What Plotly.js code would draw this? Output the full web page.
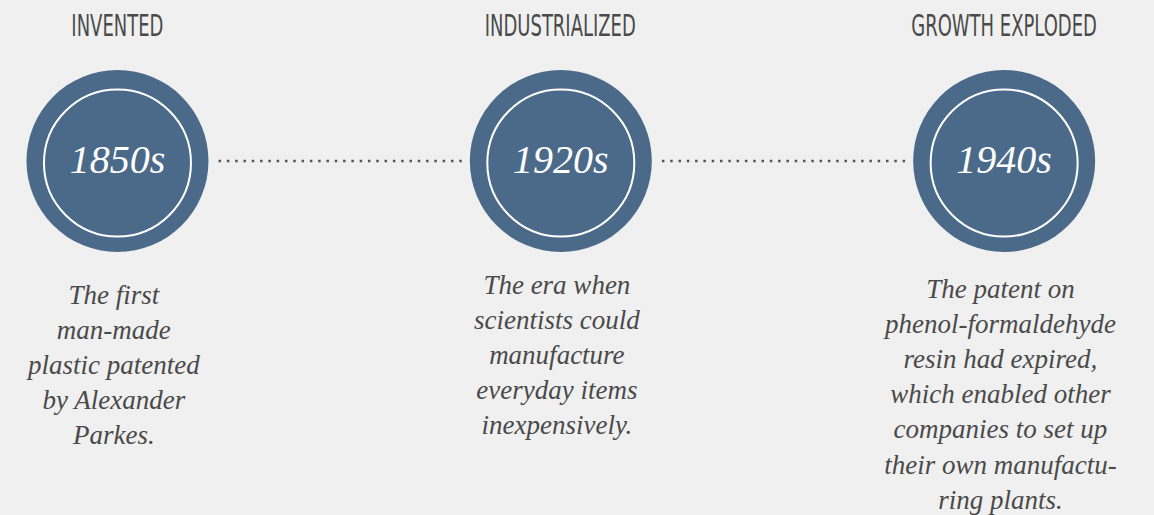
<!DOCTYPE html>
<html>
<head>
<meta charset="utf-8">
<script src="https://cdn.plot.ly/plotly-3.0.1.min.js"></script>
<style>
  html, body { margin: 0; padding: 0; background: #f0f0f0; }
  #chart { width: 1154px; height: 515px; }
</style>
</head>
<body>
<div id="chart"></div>
<script>
// ---- data ----
var stages = ['INVENTED', 'INDUSTRIALIZED', 'GROWTH EXPLODED'];
var years = ['1850s', '1920s', '1940s'];
var descriptions = [
  'The first<br>man-made<br>plastic patented<br>by Alexander<br>Parkes.',
  'The era when<br>scientists could<br>manufacture<br>everyday items<br>inexpensively.',
  'The patent on<br>phenol-formaldehyde<br>resin had expired,<br>which enabled other<br>companies to set up<br>their own manufactu-<br>ring plants.'
];

// ---- layout constants ----
var idx = stages.map(function (_, i) { return i; });
var circleY = 161;
var headerY = 25;
var descTop = [278, 268, 272];
var blue = '#4b6a89';
var textGrey = '#4a4a4a';

var traces = [];
// dotted connectors between consecutive stages
for (var i = 0; i < idx.length - 1; i++) {
  traces.push({
    x: [idx[i] + 0.228, idx[i + 1] - 0.223],
    y: [circleY, circleY],
    mode: 'lines',
    line: { color: '#555555', width: 2.5, dash: '2.5px,5.8px' },
    hoverinfo: 'skip', showlegend: false
  });
}
// outer filled circles
traces.push({
  x: idx, y: idx.map(function () { return circleY; }),
  mode: 'markers',
  marker: { size: 182, color: blue, line: { width: 0 } },
  hoverinfo: 'skip', showlegend: false
});
// inner white rings with year labels
traces.push({
  x: idx, y: idx.map(function () { return circleY + 2; }),
  mode: 'markers+text',
  text: years,
  textposition: 'middle center',
  textfont: { family: '"Liberation Serif", "DejaVu Serif", serif', size: 40, color: '#ffffff', style: 'italic' },
  marker: { size: 147, color: 'rgba(0,0,0,0)', line: { width: 2, color: '#ffffff' } },
  hoverinfo: 'skip', showlegend: false
});

var annotations = [];
stages.forEach(function (s, i) {
  annotations.push({
    x: idx[i], y: headerY, xref: 'x', yref: 'y',
    text: s, showarrow: false, xanchor: 'center', yanchor: 'middle',
    font: { family: '"DejaVu Sans", sans-serif', size: 31, color: textGrey }
  });
});
descriptions.forEach(function (d, i) {
  annotations.push({
    x: idx[i], y: descTop[i], xref: 'x', yref: 'y', xshift: -4,
    text: d, showarrow: false, xanchor: 'center', yanchor: 'top', align: 'center',
    font: { family: '"Liberation Serif", "DejaVu Serif", serif', size: 27, color: textGrey, style: 'italic' }
  });
});

var layout = {
  width: 1154, height: 515,
  margin: { l: 0, r: 0, t: 0, b: 0 },
  paper_bgcolor: '#f0f0f0', plot_bgcolor: '#f0f0f0',
  xaxis: { range: [-0.265, 2.338], visible: false, fixedrange: true },
  yaxis: { range: [515, 0], visible: false, fixedrange: true },
  annotations: annotations,
  showlegend: false
};

function condenseHeaders() {
  var groups = document.querySelectorAll('#chart g.annotation');
  for (var k = 0; k < groups.length; k++) {
    var t = groups[k].querySelector('text');
    if (!t || stages.indexOf(t.textContent) < 0) continue;
    var bb = t.getBBox();
    var cx = bb.x + bb.width / 2;
    t.setAttribute('transform', 'translate(' + cx + ',0) scale(0.58,1) translate(' + (-cx) + ',0)');
  }
}

Plotly.newPlot('chart', traces, layout, { displayModeBar: false, staticPlot: true }).then(condenseHeaders);
</script>
</body>
</html>
